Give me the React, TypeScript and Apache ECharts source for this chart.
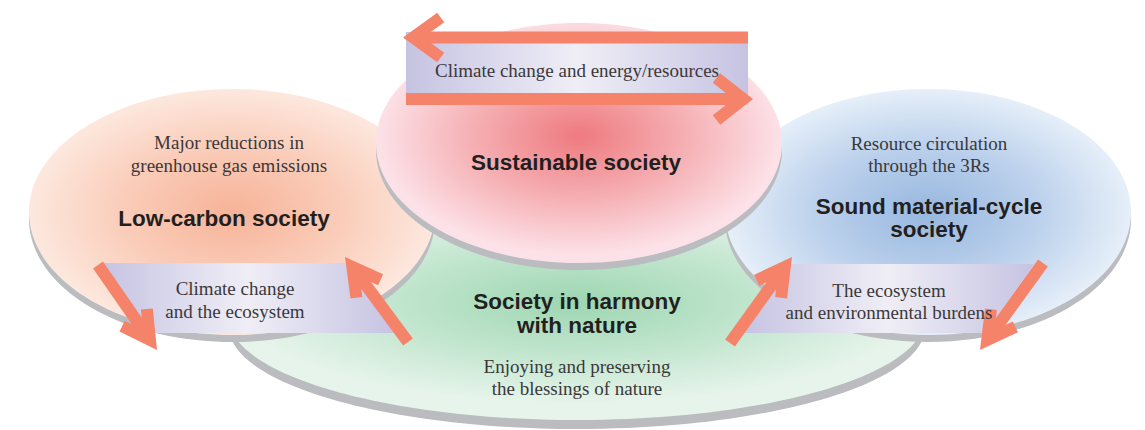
import React, { useEffect, useRef } from "react";
import * as echarts from "echarts";

// ---- content ----
const SOCIETY_TITLES = ["Low-carbon society", "Sustainable society", "Sound material-cycle\nsociety", "Society in harmony\nwith nature"];
const SOCIETY_SUBTITLES = ["Major reductions in\ngreenhouse gas emissions", "", "Resource circulation\nthrough the 3Rs", "Enjoying and preserving\nthe blessings of nature"];
const LINK_LABELS = ["Climate change and energy/resources", "Climate change\nand the ecosystem", "The ecosystem\nand environmental burdens"];

// ---- layout / style ----
const W = 1145;
const H = 430;
const ARROW_COLOR = "#f4836a";
const SHADOW = "#bbbcbf";
const SERIF = '"Liberation Serif", "Times New Roman", serif';
const SANS = '"Liberation Sans", Arial, Helvetica, sans-serif';

type Disc = { cx: number; cy: number; rx: number; ry: number; gy: number; stops: [number, string][]; shadow: number };
// draw order: green, orange, blue, pink
const DISCS: Disc[] = [
  { cx: 577, cy: 318, rx: 348, ry: 102, gy: 0.42, shadow: 9, stops: [[0, "#9dd6b1"], [0.5, "#c0e5cd"], [1, "#e7f4eb"]] },
  { cx: 232, cy: 212, rx: 203, ry: 123, gy: 0.5, shadow: 7, stops: [[0, "#f7b398"], [0.55, "#facdba"], [1, "#fde8de"]] },
  { cx: 928, cy: 212, rx: 203, ry: 123, gy: 0.5, shadow: 7, stops: [[0, "#97b7df"], [0.55, "#bcd1ec"], [1, "#e6eff9"]] },
  { cx: 579, cy: 143, rx: 203, ry: 120, gy: 0.47, shadow: 7, stops: [[0, "#ee7a7f"], [0.5, "#f5adb1"], [1, "#fce2e8"]] },
];

const BANNER_STOPS: [number, string][] = [[0, "#c6c3e2"], [0.5, "#efeef6"], [1, "#c6c3e2"]];
const BANNERS: number[][][] = [
  [[406, 32], [748, 32], [748, 105], [406, 105]],
  [[100, 263], [346, 263], [396, 333], [150, 333]],
  [[790, 264], [1034, 264], [985, 333], [742, 333]],
];

type Arrow = { tail: [number, number]; tip: [number, number]; len: number; half: number };
const ARROWS: Arrow[] = [
  { tail: [748, 37.5], tip: [403, 37.5], len: 34, half: 36 },
  { tail: [406, 99], tip: [753, 99], len: 34, half: 38 },
  { tail: [98, 265], tip: [157, 350], len: 31, half: 29 },
  { tail: [408, 342], tip: [345, 257], len: 31, half: 29 },
  { tail: [730, 343], tip: [792, 257], len: 31, half: 29 },
  { tail: [1043, 263], tip: [980, 350], len: 31, half: 29 },
];

function arrowEls(a: Arrow, z: number) {
  const w = 12;
  const dx = a.tip[0] - a.tail[0];
  const dy = a.tip[1] - a.tail[1];
  const l = Math.hypot(dx, dy);
  const ux = dx / l;
  const uy = dy / l;
  const h = (a.half * Math.PI) / 180;
  const ext = w / 2 / Math.sin(h);
  const tc: [number, number] = [a.tip[0] - ux * ext, a.tip[1] - uy * ext];
  const bx = -ux;
  const by = -uy;
  const rot = (ang: number): [number, number] => [
    tc[0] + (bx * Math.cos(ang) - by * Math.sin(ang)) * a.len,
    tc[1] + (bx * Math.sin(ang) + by * Math.cos(ang)) * a.len,
  ];
  const w1 = rot(h);
  const w2 = rot(-h);
  const style = { stroke: ARROW_COLOR, lineWidth: w, fill: null, lineJoin: "miter", miterLimit: 10, lineCap: "butt" };
  return [
    { type: "polyline", z, shape: { points: [a.tail, tc] }, style },
    { type: "polyline", z, shape: { points: [w1, tc, w2] }, style },
  ];
}

type Txt = { text: string; x: number; y: number; bold: boolean; size: number; lh: number };
const SERIF_SIZE = 19;
const BOLD_SIZE = 22.5;
const TEXTS: Txt[] = [
  { text: LINK_LABELS[0], x: 577, y: 70, bold: false, size: SERIF_SIZE, lh: 22 },
  { text: SOCIETY_TITLES[1], x: 576, y: 162, bold: true, size: BOLD_SIZE, lh: 23 },
  { text: SOCIETY_SUBTITLES[0], x: 229, y: 142, bold: false, size: SERIF_SIZE, lh: 23 },
  { text: SOCIETY_TITLES[0], x: 224, y: 218, bold: true, size: BOLD_SIZE, lh: 23 },
  { text: SOCIETY_SUBTITLES[2], x: 929, y: 143, bold: false, size: SERIF_SIZE, lh: 22 },
  { text: SOCIETY_TITLES[2], x: 929, y: 206, bold: true, size: BOLD_SIZE, lh: 23 },
  { text: LINK_LABELS[1], x: 235, y: 288, bold: false, size: SERIF_SIZE, lh: 23 },
  { text: LINK_LABELS[2], x: 889, y: 290, bold: false, size: SERIF_SIZE, lh: 22 },
  { text: SOCIETY_TITLES[3], x: 577, y: 301, bold: true, size: BOLD_SIZE, lh: 24 },
  { text: SOCIETY_SUBTITLES[3], x: 577, y: 366, bold: false, size: SERIF_SIZE, lh: 22 },
];

function buildGraphic() {
  const els: any[] = [];
  let z = 1;
  DISCS.forEach((d) => {
    els.push({ type: "ellipse", z: z++, shape: { cx: d.cx, cy: d.cy + d.shadow, rx: d.rx, ry: d.ry }, style: { fill: SHADOW } });
    els.push({
      type: "ellipse",
      z: z++,
      shape: { cx: d.cx, cy: d.cy, rx: d.rx, ry: d.ry },
      style: {
        fill: { type: "radial", x: 0.5, y: d.gy, r: 0.5, colorStops: d.stops.map(([offset, color]) => ({ offset, color })) },
      },
    });
  });
  BANNERS.forEach((pts) => {
    els.push({
      type: "polygon",
      z: z++,
      shape: { points: pts },
      style: {
        fill: { type: "linear", x: 0, y: 0, x2: 1, y2: 0, colorStops: BANNER_STOPS.map(([offset, color]) => ({ offset, color })) },
      },
    });
  });
  ARROWS.forEach((a) => {
    els.push(...arrowEls(a, z++));
  });
  TEXTS.forEach((t) => {
    t.text.split("\n").forEach((line, i) => {
      els.push({
        type: "text",
        z: z++,
        x: t.x,
        y: t.y + i * t.lh,
        style: {
          text: line,
          align: "center",
          verticalAlign: "middle",
          fontSize: t.size,
          fontFamily: t.bold ? SANS : SERIF,
          fontWeight: t.bold ? "bold" : "normal",
          fill: t.bold ? "#231f20" : "#3a3839",
        },
      });
    });
  });
  return els;
}

export default function App() {
  const ref = useRef<HTMLDivElement>(null);
  useEffect(() => {
    document.body.style.margin = "0";
    if (!ref.current) return;
    const chart = echarts.init(ref.current, null, { renderer: "svg" });
    chart.setOption({
      animation: false,
      backgroundColor: "#ffffff",
      graphic: { elements: buildGraphic() },
    });
    return () => chart.dispose();
  }, []);
  return <div ref={ref} style={{ width: W, height: H }} />;
}
